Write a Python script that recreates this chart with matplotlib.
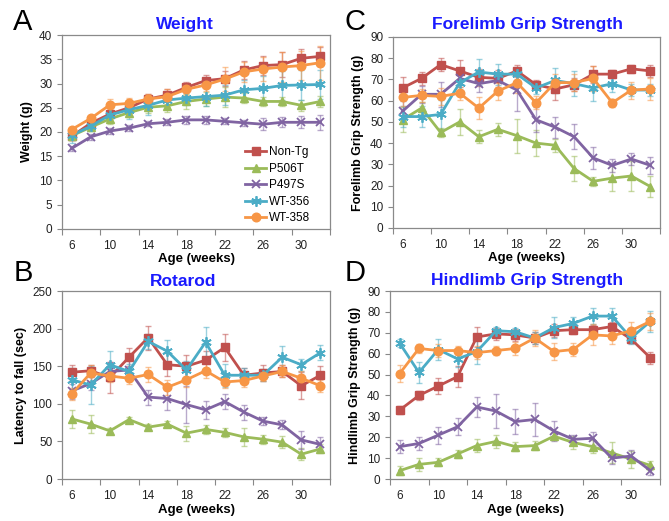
import matplotlib
matplotlib.use("Agg")
import matplotlib.pyplot as plt
import numpy as np

plt.rcParams['font.family'] = ['Liberation Sans', 'DejaVu Sans']

ages = [6, 8, 10, 12, 14, 16, 18, 20, 22, 24, 26, 28, 30, 32]
groups = ["Non-Tg", "P506T", "P497S", "WT-356", "WT-358"]

# Panel A: Weight (g)
weight_nontg = [19.1, 21.8, 23.7, 25.0, 26.8, 27.6, 29.2, 30.6, 31.0, 32.8, 33.7, 33.9, 35.2, 35.6]
weight_p506t = [19.2, 21.0, 22.7, 24.0, 25.1, 25.4, 26.3, 26.8, 27.2, 27.0, 26.3, 26.3, 25.5, 26.3]
weight_p497s = [16.6, 19.0, 20.2, 20.8, 21.7, 22.0, 22.5, 22.5, 22.2, 21.9, 21.6, 22.0, 22.0, 22.0]
weight_wt356 = [19.3, 21.2, 23.5, 24.6, 25.5, 26.6, 27.0, 27.3, 27.6, 28.7, 29.0, 29.6, 29.7, 29.8]
weight_wt358 = [20.5, 22.8, 25.6, 25.9, 26.8, 27.3, 28.8, 29.7, 30.9, 32.4, 33.0, 33.4, 33.7, 34.3]
weight_err_nontg = [0.8, 0.8, 0.8, 1.0, 1.0, 1.2, 1.2, 1.2, 1.5, 1.8, 2.0, 2.5, 2.0, 2.0]
weight_err_p506t = [0.8, 0.8, 1.0, 1.0, 1.2, 1.2, 1.5, 1.5, 2.0, 1.0, 1.0, 1.0, 1.2, 1.2]
weight_err_p497s = [0.6, 0.6, 0.6, 0.6, 0.5, 0.6, 0.8, 0.8, 0.6, 0.6, 1.2, 1.0, 1.2, 1.5]
weight_err_wt356 = [1.5, 1.0, 1.5, 2.0, 2.0, 1.5, 1.5, 2.0, 2.0, 2.0, 2.5, 3.0, 3.0, 3.0]
weight_err_wt358 = [0.6, 0.6, 1.2, 1.2, 1.0, 1.5, 1.2, 1.2, 2.5, 2.0, 2.5, 3.0, 3.0, 3.5]

# Panel B: Rotarod latency (sec)
rota_nontg = [142, 144, 135, 162, 188, 152, 150, 158, 175, 138, 141, 143, 124, 138]
rota_p506t = [80, 73, 64, 79, 69, 73, 61, 66, 62, 56, 53, 49, 33, 40]
rota_p497s = [117, 127, 143, 145, 109, 107, 99, 92, 103, 89, 77, 72, 52, 46]
rota_wt356 = [132, 125, 152, 143, 183, 170, 145, 182, 138, 138, 138, 162, 152, 168]
rota_wt358 = [113, 141, 137, 134, 139, 122, 132, 144, 129, 131, 137, 143, 134, 124]
rota_err_nontg = [10, 8, 20, 12, 16, 15, 15, 12, 18, 10, 10, 8, 18, 12]
rota_err_p506t = [12, 12, 4, 4, 4, 4, 10, 6, 6, 12, 6, 8, 8, 6]
rota_err_p497s = [10, 8, 12, 15, 10, 15, 25, 12, 10, 10, 5, 6, 12, 10]
rota_err_wt356 = [15, 25, 18, 10, 10, 15, 12, 20, 15, 10, 8, 15, 8, 10]
rota_err_wt358 = [8, 10, 8, 8, 10, 10, 10, 10, 8, 8, 6, 8, 10, 8]

# Panel C: Forelimb grip strength (g)
fore_nontg = [66, 70.5, 77, 74, 71, 70.5, 74, 67.5, 65.5, 67.5, 72.5, 72.5, 75, 74]
fore_p506t = [51, 56.5, 45, 50, 43, 46.5, 43.5, 40, 39, 28, 22, 23.5, 24.5, 19.5]
fore_p497s = [55, 63, 63, 70.5, 68, 69.5, 65, 51, 47.5, 43, 33, 29.5, 32.5, 29.5]
fore_wt356 = [52.5, 52.5, 53.5, 68.5, 73.5, 72.5, 72.5, 66, 69.5, 68, 66, 68, 65, 65]
fore_wt358 = [61.5, 62.5, 62, 63.5, 56.5, 64.5, 68.5, 59, 68.5, 68.5, 70.5, 59, 65, 65.5]
fore_err_nontg = [5, 3, 3, 5, 4, 4, 3, 2, 5, 3, 4, 2, 2, 3]
fore_err_p506t = [6, 3, 2, 6, 3, 3, 8, 6, 3, 6, 2, 6, 7, 5]
fore_err_p497s = [5, 4, 6, 4, 4, 4, 10, 6, 5, 6, 5, 3, 3, 4]
fore_err_wt356 = [5, 5, 7, 4, 6, 5, 3, 3, 6, 6, 6, 4, 3, 3]
fore_err_wt358 = [4, 3, 4, 3, 5, 4, 5, 3, 4, 4, 6, 2, 4, 5]

# Panel D: Hindlimb grip strength (g)
hind_nontg = [33, 40, 44.5, 49, 68, 69.5, 69, 67.5, 71, 71.5, 71.5, 73, 67, 58]
hind_p506t = [4, 7, 8, 12, 16, 18, 15.5, 16, 20.5, 17.5, 15.5, 12.5, 9.5, 6.5]
hind_p497s = [15.5, 17, 21, 25, 34.5, 32.5, 27.5, 28.5, 23, 19, 19.5, 10, 11, 4]
hind_wt356 = [65, 51, 62, 57.5, 61, 71, 70.5, 67.5, 72.5, 74.5, 78, 78, 67.5, 75.5]
hind_wt358 = [50.5, 62.5, 61.5, 61.5, 60.5, 61.5, 62.5, 67.5, 61, 62, 69, 68.5, 71, 75.5]
hind_err_nontg = [2, 2, 4, 5, 5, 3, 3, 3, 3, 2, 2, 2, 2, 3]
hind_err_p506t = [2, 3, 2, 2, 3, 3, 2, 2, 2, 3, 3, 5, 4, 2]
hind_err_p497s = [3, 3, 4, 4, 5, 8, 6, 8, 5, 2, 3, 3, 3, 2]
hind_err_wt356 = [2, 5, 5, 4, 6, 2, 2, 3, 5, 3, 4, 4, 3, 5]
hind_err_wt358 = [4, 2, 3, 2, 3, 2, 3, 4, 4, 3, 5, 4, 4, 4]

colors = ["#C0504D", "#9BBB59", "#8064A2", "#4BACC6", "#F79646"]
markers = ["s", "^", "x", (6, 2, 0), "o"]
msizes = [5.8, 6.0, 6.0, 7.5, 6.2]

fig = plt.figure(figsize=(6.69, 5.21), dpi=100)

panels = [
    dict(letter="A", title="Weight", ylabel="Weight (g)", ylim=(0, 40), ystep=5,
         rect=[0.0927, 0.5605, 0.4006, 0.3723],
         vals=[weight_nontg, weight_p506t, weight_p497s, weight_wt356, weight_wt358],
         errs=[weight_err_nontg, weight_err_p506t, weight_err_p497s, weight_err_wt356, weight_err_wt358],
         legend=True, title_xy=(185, 25), letter_xy=(23, 22)),
    dict(letter="C", title="Forelimb Grip Strength", ylabel="Forelimb Grip Strength (g)", ylim=(0, 90), ystep=10,
         rect=[0.5874, 0.5624, 0.3991, 0.3666],
         vals=[fore_nontg, fore_p506t, fore_p497s, fore_wt356, fore_wt358],
         errs=[fore_err_nontg, fore_err_p506t, fore_err_p497s, fore_err_wt356, fore_err_wt358],
         legend=False, title_xy=(527, 25), letter_xy=(355, 22)),
    dict(letter="B", title="Rotarod", ylabel="Latency to fall (sec)", ylim=(0, 250), ystep=50,
         rect=[0.0927, 0.0806, 0.4006, 0.3608],
         vals=[rota_nontg, rota_p506t, rota_p497s, rota_wt356, rota_wt358],
         errs=[rota_err_nontg, rota_err_p506t, rota_err_p497s, rota_err_wt356, rota_err_wt358],
         legend=False, title_xy=(183, 281), letter_xy=(23, 273)),
    dict(letter="D", title="Hindlimb Grip Strength", ylabel="Hindlimb Grip Strength (g)", ylim=(0, 90), ystep=10,
         rect=[0.583, 0.0806, 0.4036, 0.3608],
         vals=[hind_nontg, hind_p506t, hind_p497s, hind_wt356, hind_wt358],
         errs=[hind_err_nontg, hind_err_p506t, hind_err_p497s, hind_err_wt356, hind_err_wt358],
         legend=False, title_xy=(527, 280), letter_xy=(355, 273)),
]

W, H = 669, 521
x = np.arange(len(ages))

for p in panels:
    ax = fig.add_axes(p["rect"])
    for i, g in enumerate(groups):
        ax.errorbar(x, p["vals"][i], yerr=p["errs"][i], fmt="none", ecolor=colors[i],
                    alpha=0.55, elinewidth=1.0, capsize=2.5, capthick=1.0, zorder=2)
    for i, g in enumerate(groups):
        mk = markers[i]
        kw = dict(color=colors[i], lw=2.0, marker=mk, ms=msizes[i], zorder=3 + i * 0.1, label=g)
        if mk in ("x",) or isinstance(mk, tuple):
            kw.update(mew=1.3)
        else:
            kw.update(mec=colors[i], mfc=colors[i])
        ax.plot(x, p["vals"][i], **kw)
    ax.set_xlim(-0.5, len(ages) - 0.5)
    ax.set_ylim(*p["ylim"])
    ax.set_yticks(np.arange(p["ylim"][0], p["ylim"][1] + 0.1, p["ystep"]))
    ax.set_xticks(x[::2])
    ax.set_xticklabels([str(a) for a in ages[::2]])
    ax.set_xticks(np.arange(-0.5, len(ages), 2), minor=True)
    ax.tick_params(axis="x", which="major", length=0, labelsize=8.5, pad=8, labelcolor="#222222")
    ax.tick_params(axis="x", which="minor", length=4, direction="out", color="#888888", width=0.8)
    ax.tick_params(axis="y", which="major", length=3.5, direction="out", color="#888888", width=0.8,
                   labelsize=8.5, labelcolor="#222222")
    for s in ax.spines.values():
        s.set_color("#8a8a8a")
        s.set_linewidth(0.9)
    ax.set_ylabel(p["ylabel"], fontsize=9, fontweight="bold", labelpad=4)
    ax.set_xlabel("Age (weeks)", fontsize=9.5, fontweight="bold", labelpad=1)
    fig.text(p["title_xy"][0] / W, 1 - p["title_xy"][1] / H, p["title"], color="#1a1aff",
             fontsize=12.5, fontweight="bold", ha="center", va="center")
    fig.text(p["letter_xy"][0] / W, 1 - p["letter_xy"][1] / H, p["letter"], color="black",
             fontsize=21, ha="center", va="center")
    if p["legend"]:
        ax.legend(loc="lower right", bbox_to_anchor=(0.96, -0.025), frameon=False, fontsize=8.5,
                  handlelength=1.8, handletextpad=0.2, labelspacing=0.38, borderpad=0.3)

fig.savefig("out.png", dpi=100)
